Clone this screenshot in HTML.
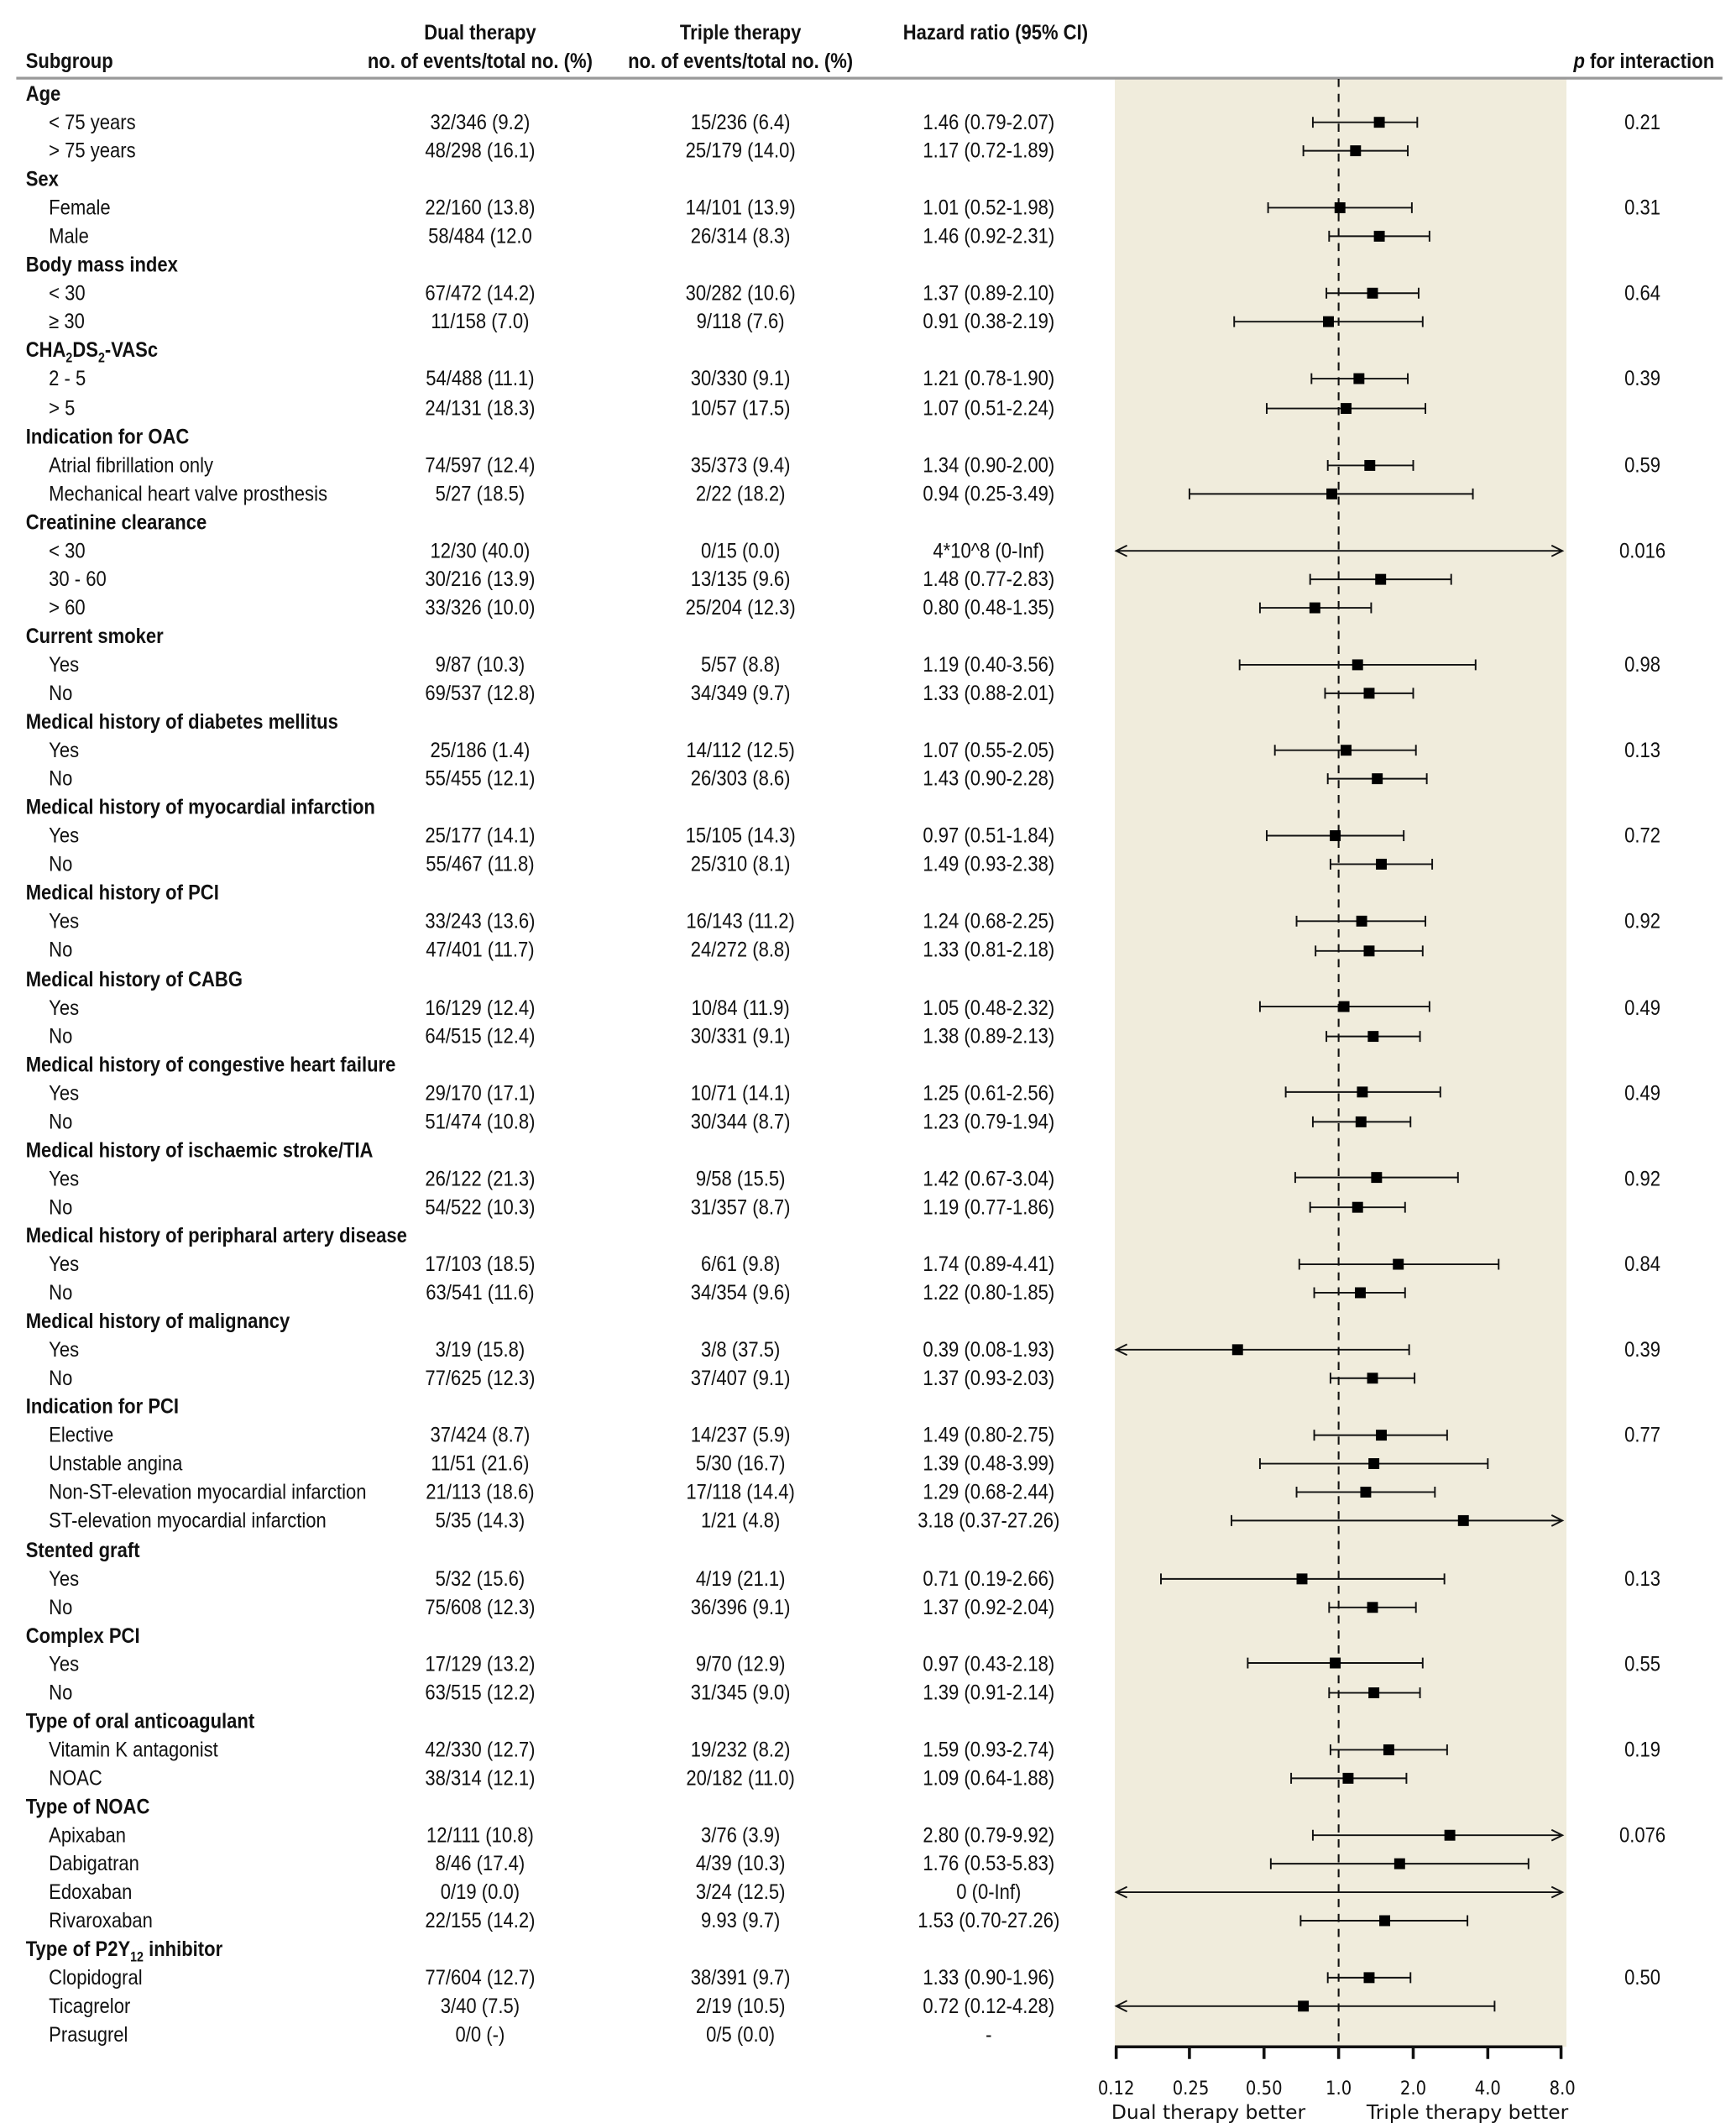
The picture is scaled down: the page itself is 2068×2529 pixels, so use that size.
<!DOCTYPE html>
<html><head><meta charset="utf-8"><style>
html,body{margin:0;padding:0;background:#fff;}
svg{display:block;}
text{font-family:"Liberation Sans Narrow","Liberation Sans",sans-serif;font-size:15.5px;fill:#111;}
.b{font-weight:bold;}
</style></head><body>
<svg width="2068" height="2529" viewBox="0 0 1280 1565" xmlns="http://www.w3.org/2000/svg">
<rect x="822" y="58" width="333" height="1451" fill="#f0ecdc"/>
<line x1="12" y1="57.5" x2="1270" y2="57.5" stroke="#999" stroke-width="2"/>
<g transform="translate(354 0) scale(0.88 1)" text-anchor="middle">
<text x="0" y="29" class="b">Dual therapy</text>
<text x="0" y="50" class="b">no. of events/total no. (%)</text>
</g>
<g transform="translate(546 0) scale(0.88 1)" text-anchor="middle">
<text x="0" y="29" class="b">Triple therapy</text>
<text x="0" y="50" class="b">no. of events/total no. (%)</text>
</g>
<g transform="translate(734 0) scale(0.88 1)" text-anchor="middle">
<text x="0" y="29" class="b">Hazard ratio (95% CI)</text>
</g>
<g transform="translate(1264 0) scale(0.88 1)" text-anchor="end">
<text x="0" y="50" class="b"><tspan font-style="italic">p</tspan> for interaction</text>
</g>
<line x1="987" y1="58" x2="987" y2="1509" stroke="#111" stroke-width="1.3" stroke-dasharray="6,5"/>
<g transform="translate(19 0) scale(0.88 1)">
<text x="0" y="50" class="b">Subgroup</text>
<text x="0" y="74" class="b">Age</text>
<text x="0" y="137" class="b">Sex</text>
<text x="0" y="200" class="b">Body mass index</text>
<text x="0" y="263" class="b">CHA<tspan font-size="10" dy="4">2</tspan><tspan dy="-4">DS</tspan><tspan font-size="10" dy="4">2</tspan><tspan dy="-4">-VASc</tspan></text>
<text x="0" y="327" class="b">Indication for OAC</text>
<text x="0" y="390" class="b">Creatinine clearance</text>
<text x="0" y="474" class="b">Current smoker</text>
<text x="0" y="537" class="b">Medical history of diabetes mellitus</text>
<text x="0" y="600" class="b">Medical history of myocardial infarction</text>
<text x="0" y="663" class="b">Medical history of PCI</text>
<text x="0" y="727" class="b">Medical history of CABG</text>
<text x="0" y="790" class="b">Medical history of congestive heart failure</text>
<text x="0" y="853" class="b">Medical history of ischaemic stroke/TIA</text>
<text x="0" y="916" class="b">Medical history of peripharal artery disease</text>
<text x="0" y="979" class="b">Medical history of malignancy</text>
<text x="0" y="1042" class="b">Indication for PCI</text>
<text x="0" y="1148" class="b">Stented graft</text>
<text x="0" y="1211" class="b">Complex PCI</text>
<text x="0" y="1274" class="b">Type of oral anticoagulant</text>
<text x="0" y="1337" class="b">Type of NOAC</text>
<text x="0" y="1442" class="b">Type of P2Y<tspan font-size="10" dy="4">12</tspan><tspan dy="-4"> inhibitor</tspan></text>
</g>
<g transform="translate(36 0) scale(0.88 1)">
<text x="0" y="95">&lt; 75 years</text>
<text x="0" y="116">&gt; 75 years</text>
<text x="0" y="158">Female</text>
<text x="0" y="179">Male</text>
<text x="0" y="221">&lt; 30</text>
<text x="0" y="242">≥ 30</text>
<text x="0" y="284">2 - 5</text>
<text x="0" y="306">&gt; 5</text>
<text x="0" y="348">Atrial fibrillation only</text>
<text x="0" y="369">Mechanical heart valve prosthesis</text>
<text x="0" y="411">&lt; 30</text>
<text x="0" y="432">30 - 60</text>
<text x="0" y="453">&gt; 60</text>
<text x="0" y="495">Yes</text><text x="0" y="516">No</text>
<text x="0" y="558">Yes</text><text x="0" y="579">No</text>
<text x="0" y="621">Yes</text><text x="0" y="642">No</text>
<text x="0" y="684">Yes</text><text x="0" y="705">No</text>
<text x="0" y="748">Yes</text><text x="0" y="769">No</text>
<text x="0" y="811">Yes</text><text x="0" y="832">No</text>
<text x="0" y="874">Yes</text><text x="0" y="895">No</text>
<text x="0" y="937">Yes</text><text x="0" y="958">No</text>
<text x="0" y="1000">Yes</text><text x="0" y="1021">No</text>
<text x="0" y="1063">Elective</text>
<text x="0" y="1084">Unstable angina</text>
<text x="0" y="1105">Non-ST-elevation myocardial infarction</text>
<text x="0" y="1126">ST-elevation myocardial infarction</text>
<text x="0" y="1169">Yes</text><text x="0" y="1190">No</text>
<text x="0" y="1232">Yes</text><text x="0" y="1253">No</text>
<text x="0" y="1295">Vitamin K antagonist</text>
<text x="0" y="1316">NOAC</text>
<text x="0" y="1358">Apixaban</text>
<text x="0" y="1379">Dabigatran</text>
<text x="0" y="1400">Edoxaban</text>
<text x="0" y="1421">Rivaroxaban</text>
<text x="0" y="1463">Clopidogral</text>
<text x="0" y="1484">Ticagrelor</text>
<text x="0" y="1505">Prasugrel</text>
</g>
<g transform="translate(354 0) scale(0.88 1)" text-anchor="middle">
<text x="0" y="95">32/346 (9.2)</text><text x="0" y="116">48/298 (16.1)</text>
<text x="0" y="158">22/160 (13.8)</text><text x="0" y="179">58/484 (12.0</text>
<text x="0" y="221">67/472 (14.2)</text><text x="0" y="242">11/158 (7.0)</text>
<text x="0" y="284">54/488 (11.1)</text><text x="0" y="306">24/131 (18.3)</text>
<text x="0" y="348">74/597 (12.4)</text><text x="0" y="369">5/27 (18.5)</text>
<text x="0" y="411">12/30 (40.0)</text><text x="0" y="432">30/216 (13.9)</text><text x="0" y="453">33/326 (10.0)</text>
<text x="0" y="495">9/87 (10.3)</text><text x="0" y="516">69/537 (12.8)</text>
<text x="0" y="558">25/186 (1.4)</text><text x="0" y="579">55/455 (12.1)</text>
<text x="0" y="621">25/177 (14.1)</text><text x="0" y="642">55/467 (11.8)</text>
<text x="0" y="684">33/243 (13.6)</text><text x="0" y="705">47/401 (11.7)</text>
<text x="0" y="748">16/129 (12.4)</text><text x="0" y="769">64/515 (12.4)</text>
<text x="0" y="811">29/170 (17.1)</text><text x="0" y="832">51/474 (10.8)</text>
<text x="0" y="874">26/122 (21.3)</text><text x="0" y="895">54/522 (10.3)</text>
<text x="0" y="937">17/103 (18.5)</text><text x="0" y="958">63/541 (11.6)</text>
<text x="0" y="1000">3/19 (15.8)</text><text x="0" y="1021">77/625 (12.3)</text>
<text x="0" y="1063">37/424 (8.7)</text><text x="0" y="1084">11/51 (21.6)</text><text x="0" y="1105">21/113 (18.6)</text><text x="0" y="1126">5/35 (14.3)</text>
<text x="0" y="1169">5/32 (15.6)</text><text x="0" y="1190">75/608 (12.3)</text>
<text x="0" y="1232">17/129 (13.2)</text><text x="0" y="1253">63/515 (12.2)</text>
<text x="0" y="1295">42/330 (12.7)</text><text x="0" y="1316">38/314 (12.1)</text>
<text x="0" y="1358">12/111 (10.8)</text><text x="0" y="1379">8/46 (17.4)</text><text x="0" y="1400">0/19 (0.0)</text><text x="0" y="1421">22/155 (14.2)</text>
<text x="0" y="1463">77/604 (12.7)</text><text x="0" y="1484">3/40 (7.5)</text><text x="0" y="1505">0/0 (-)</text>
</g>
<g transform="translate(546 0) scale(0.88 1)" text-anchor="middle">
<text x="0" y="95">15/236 (6.4)</text><text x="0" y="116">25/179 (14.0)</text>
<text x="0" y="158">14/101 (13.9)</text><text x="0" y="179">26/314 (8.3)</text>
<text x="0" y="221">30/282 (10.6)</text><text x="0" y="242">9/118 (7.6)</text>
<text x="0" y="284">30/330 (9.1)</text><text x="0" y="306">10/57 (17.5)</text>
<text x="0" y="348">35/373 (9.4)</text><text x="0" y="369">2/22 (18.2)</text>
<text x="0" y="411">0/15 (0.0)</text><text x="0" y="432">13/135 (9.6)</text><text x="0" y="453">25/204 (12.3)</text>
<text x="0" y="495">5/57 (8.8)</text><text x="0" y="516">34/349 (9.7)</text>
<text x="0" y="558">14/112 (12.5)</text><text x="0" y="579">26/303 (8.6)</text>
<text x="0" y="621">15/105 (14.3)</text><text x="0" y="642">25/310 (8.1)</text>
<text x="0" y="684">16/143 (11.2)</text><text x="0" y="705">24/272 (8.8)</text>
<text x="0" y="748">10/84 (11.9)</text><text x="0" y="769">30/331 (9.1)</text>
<text x="0" y="811">10/71 (14.1)</text><text x="0" y="832">30/344 (8.7)</text>
<text x="0" y="874">9/58 (15.5)</text><text x="0" y="895">31/357 (8.7)</text>
<text x="0" y="937">6/61 (9.8)</text><text x="0" y="958">34/354 (9.6)</text>
<text x="0" y="1000">3/8 (37.5)</text><text x="0" y="1021">37/407 (9.1)</text>
<text x="0" y="1063">14/237 (5.9)</text><text x="0" y="1084">5/30 (16.7)</text><text x="0" y="1105">17/118 (14.4)</text><text x="0" y="1126">1/21 (4.8)</text>
<text x="0" y="1169">4/19 (21.1)</text><text x="0" y="1190">36/396 (9.1)</text>
<text x="0" y="1232">9/70 (12.9)</text><text x="0" y="1253">31/345 (9.0)</text>
<text x="0" y="1295">19/232 (8.2)</text><text x="0" y="1316">20/182 (11.0)</text>
<text x="0" y="1358">3/76 (3.9)</text><text x="0" y="1379">4/39 (10.3)</text><text x="0" y="1400">3/24 (12.5)</text><text x="0" y="1421">9.93 (9.7)</text>
<text x="0" y="1463">38/391 (9.7)</text><text x="0" y="1484">2/19 (10.5)</text><text x="0" y="1505">0/5 (0.0)</text>
</g>
<g transform="translate(729 0) scale(0.88 1)" text-anchor="middle">
<text x="0" y="95">1.46 (0.79-2.07)</text><text x="0" y="116">1.17 (0.72-1.89)</text>
<text x="0" y="158">1.01 (0.52-1.98)</text><text x="0" y="179">1.46 (0.92-2.31)</text>
<text x="0" y="221">1.37 (0.89-2.10)</text><text x="0" y="242">0.91 (0.38-2.19)</text>
<text x="0" y="284">1.21 (0.78-1.90)</text><text x="0" y="306">1.07 (0.51-2.24)</text>
<text x="0" y="348">1.34 (0.90-2.00)</text><text x="0" y="369">0.94 (0.25-3.49)</text>
<text x="0" y="411">4*10^8 (0-Inf)</text><text x="0" y="432">1.48 (0.77-2.83)</text><text x="0" y="453">0.80 (0.48-1.35)</text>
<text x="0" y="495">1.19 (0.40-3.56)</text><text x="0" y="516">1.33 (0.88-2.01)</text>
<text x="0" y="558">1.07 (0.55-2.05)</text><text x="0" y="579">1.43 (0.90-2.28)</text>
<text x="0" y="621">0.97 (0.51-1.84)</text><text x="0" y="642">1.49 (0.93-2.38)</text>
<text x="0" y="684">1.24 (0.68-2.25)</text><text x="0" y="705">1.33 (0.81-2.18)</text>
<text x="0" y="748">1.05 (0.48-2.32)</text><text x="0" y="769">1.38 (0.89-2.13)</text>
<text x="0" y="811">1.25 (0.61-2.56)</text><text x="0" y="832">1.23 (0.79-1.94)</text>
<text x="0" y="874">1.42 (0.67-3.04)</text><text x="0" y="895">1.19 (0.77-1.86)</text>
<text x="0" y="937">1.74 (0.89-4.41)</text><text x="0" y="958">1.22 (0.80-1.85)</text>
<text x="0" y="1000">0.39 (0.08-1.93)</text><text x="0" y="1021">1.37 (0.93-2.03)</text>
<text x="0" y="1063">1.49 (0.80-2.75)</text><text x="0" y="1084">1.39 (0.48-3.99)</text><text x="0" y="1105">1.29 (0.68-2.44)</text><text x="0" y="1126">3.18 (0.37-27.26)</text>
<text x="0" y="1169">0.71 (0.19-2.66)</text><text x="0" y="1190">1.37 (0.92-2.04)</text>
<text x="0" y="1232">0.97 (0.43-2.18)</text><text x="0" y="1253">1.39 (0.91-2.14)</text>
<text x="0" y="1295">1.59 (0.93-2.74)</text><text x="0" y="1316">1.09 (0.64-1.88)</text>
<text x="0" y="1358">2.80 (0.79-9.92)</text><text x="0" y="1379">1.76 (0.53-5.83)</text><text x="0" y="1400">0 (0-Inf)</text><text x="0" y="1421">1.53 (0.70-27.26)</text>
<text x="0" y="1463">1.33 (0.90-1.96)</text><text x="0" y="1484">0.72 (0.12-4.28)</text><text x="0" y="1505">-</text>
</g>
<g transform="translate(1211 0) scale(0.88 1)" text-anchor="middle">
<text x="0" y="95">0.21</text><text x="0" y="158">0.31</text><text x="0" y="221">0.64</text>
<text x="0" y="284">0.39</text><text x="0" y="348">0.59</text><text x="0" y="411">0.016</text>
<text x="0" y="495">0.98</text><text x="0" y="558">0.13</text><text x="0" y="621">0.72</text>
<text x="0" y="684">0.92</text><text x="0" y="748">0.49</text><text x="0" y="811">0.49</text>
<text x="0" y="874">0.92</text><text x="0" y="937">0.84</text><text x="0" y="1000">0.39</text>
<text x="0" y="1063">0.77</text><text x="0" y="1169">0.13</text><text x="0" y="1232">0.55</text>
<text x="0" y="1295">0.19</text><text x="0" y="1358">0.076</text><text x="0" y="1463">0.50</text>
</g>
<g stroke="#111" stroke-width="1.2" fill="none">
<path d="M968 90H1045M968 86V94M1045 86V94"/>
<path d="M961 111H1038M961 107V115M1038 107V115"/>
<path d="M935 153H1041M935 149V157M1041 149V157"/>
<path d="M980 174H1054M980 170V178M1054 170V178"/>
<path d="M978 216H1046M978 212V220M1046 212V220"/>
<path d="M910 237H1049M910 233V241M1049 233V241"/>
<path d="M967 279H1038M967 275V283M1038 275V283"/>
<path d="M934 301H1051M934 297V305M1051 297V305"/>
<path d="M979 343H1042M979 339V347M1042 339V347"/>
<path d="M877 364H1086M877 360V368M1086 360V368"/>
<path d="M823 406H1152M831 402L823 406L831 410M1144 402L1152 406L1144 410"/>
<path d="M966 427H1070M966 423V431M1070 423V431"/>
<path d="M929 448H1011M929 444V452M1011 444V452"/>
<path d="M914 490H1088M914 486V494M1088 486V494"/>
<path d="M977 511H1042M977 507V515M1042 507V515"/>
<path d="M940 553H1044M940 549V557M1044 549V557"/>
<path d="M979 574H1052M979 570V578M1052 570V578"/>
<path d="M934 616H1035M934 612V620M1035 612V620"/>
<path d="M981 637H1056M981 633V641M1056 633V641"/>
<path d="M956 679H1051M956 675V683M1051 675V683"/>
<path d="M970 701H1049M970 697V705M1049 697V705"/>
<path d="M929 742H1054M929 738V746M1054 738V746"/>
<path d="M978 764H1047M978 760V768M1047 760V768"/>
<path d="M948 805H1062M948 801V809M1062 801V809"/>
<path d="M968 827H1040M968 823V831M1040 823V831"/>
<path d="M955 868H1075M955 864V872M1075 864V872"/>
<path d="M966 890H1036M966 886V894M1036 886V894"/>
<path d="M958 932H1105M958 928V936M1105 928V936"/>
<path d="M969 953H1036M969 949V957M1036 949V957"/>
<path d="M823 995H1039M831 991L823 995L831 999M1039 991V999"/>
<path d="M981 1016H1043M981 1012V1020M1043 1012V1020"/>
<path d="M969 1058H1067M969 1054V1062M1067 1054V1062"/>
<path d="M929 1079H1097M929 1075V1083M1097 1075V1083"/>
<path d="M956 1100H1058M956 1096V1104M1058 1096V1104"/>
<path d="M908 1121H1152M908 1117V1125M1144 1117L1152 1121L1144 1125"/>
<path d="M856 1164H1065M856 1160V1168M1065 1160V1168"/>
<path d="M980 1185H1044M980 1181V1189M1044 1181V1189"/>
<path d="M920 1226H1049M920 1222V1230M1049 1222V1230"/>
<path d="M980 1248H1047M980 1244V1252M1047 1244V1252"/>
<path d="M981 1290H1067M981 1286V1294M1067 1286V1294"/>
<path d="M952 1311H1037M952 1307V1315M1037 1307V1315"/>
<path d="M968 1353H1152M968 1349V1357M1144 1349L1152 1353L1144 1357"/>
<path d="M937 1374H1127M937 1370V1378M1127 1370V1378"/>
<path d="M823 1395H1152M831 1391L823 1395L831 1399M1144 1391L1152 1395L1144 1399"/>
<path d="M959 1416H1082M959 1412V1420M1082 1412V1420"/>
<path d="M979 1458H1040M979 1454V1462M1040 1454V1462"/>
<path d="M823 1479H1102M831 1475L823 1479L831 1483M1102 1475V1483"/>
</g>
<g fill="#000">
<rect x="1013" y="86" width="8" height="8"/>
<rect x="995.5" y="107" width="8" height="8"/>
<rect x="984" y="149" width="8" height="8"/>
<rect x="1013" y="170" width="8" height="8"/>
<rect x="1008" y="212" width="8" height="8"/>
<rect x="975.5" y="233" width="8" height="8"/>
<rect x="998" y="275" width="8" height="8"/>
<rect x="988.5" y="297" width="8" height="8"/>
<rect x="1006" y="339" width="8" height="8"/>
<rect x="978" y="360" width="8" height="8"/>
<rect x="1014" y="423" width="8" height="8"/>
<rect x="965.5" y="444" width="8" height="8"/>
<rect x="997" y="486" width="8" height="8"/>
<rect x="1005.5" y="507" width="8" height="8"/>
<rect x="988.5" y="549" width="8" height="8"/>
<rect x="1011.5" y="570" width="8" height="8"/>
<rect x="980.5" y="612" width="8" height="8"/>
<rect x="1014.5" y="633" width="8" height="8"/>
<rect x="1000" y="675" width="8" height="8"/>
<rect x="1005.5" y="697" width="8" height="8"/>
<rect x="987" y="738" width="8" height="8"/>
<rect x="1008.5" y="760" width="8" height="8"/>
<rect x="1000.5" y="801" width="8" height="8"/>
<rect x="999.5" y="823" width="8" height="8"/>
<rect x="1011" y="864" width="8" height="8"/>
<rect x="997" y="886" width="8" height="8"/>
<rect x="1027" y="928" width="8" height="8"/>
<rect x="999" y="949" width="8" height="8"/>
<rect x="908.5" y="991" width="8" height="8"/>
<rect x="1008" y="1012" width="8" height="8"/>
<rect x="1014.5" y="1054" width="8" height="8"/>
<rect x="1009" y="1075" width="8" height="8"/>
<rect x="1003" y="1096" width="8" height="8"/>
<rect x="1075" y="1117" width="8" height="8"/>
<rect x="956" y="1160" width="8" height="8"/>
<rect x="1008" y="1181" width="8" height="8"/>
<rect x="980.5" y="1222" width="8" height="8"/>
<rect x="1009" y="1244" width="8" height="8"/>
<rect x="1020" y="1286" width="8" height="8"/>
<rect x="990" y="1307" width="8" height="8"/>
<rect x="1065" y="1349" width="8" height="8"/>
<rect x="1028" y="1370" width="8" height="8"/>
<rect x="1017" y="1412" width="8" height="8"/>
<rect x="1005.5" y="1454" width="8" height="8"/>
<rect x="957" y="1475" width="8" height="8"/>
</g>
<g stroke="#111" stroke-width="2.2" fill="none">
<path d="M822 1509H1152M823 1509V1518M877 1509V1518M932 1509V1518M987 1509V1518M1042 1509V1518M1097 1509V1518M1151 1509V1518"/>
</g>
<g text-anchor="middle">
<text x="823" y="1544" style="font-family:'DejaVu Sans Condensed','Liberation Sans',sans-serif;font-size:13.5px">0.12</text>
<text x="878" y="1544" style="font-family:'DejaVu Sans Condensed','Liberation Sans',sans-serif;font-size:13.5px">0.25</text>
<text x="932" y="1544" style="font-family:'DejaVu Sans Condensed','Liberation Sans',sans-serif;font-size:13.5px">0.50</text>
<text x="987" y="1544" style="font-family:'DejaVu Sans Condensed','Liberation Sans',sans-serif;font-size:13.5px">1.0</text>
<text x="1042" y="1544" style="font-family:'DejaVu Sans Condensed','Liberation Sans',sans-serif;font-size:13.5px">2.0</text>
<text x="1097" y="1544" style="font-family:'DejaVu Sans Condensed','Liberation Sans',sans-serif;font-size:13.5px">4.0</text>
<text x="1152" y="1544" style="font-family:'DejaVu Sans Condensed','Liberation Sans',sans-serif;font-size:13.5px">8.0</text>
<text x="891" y="1562" style="font-family:'DejaVu Sans','Liberation Sans',sans-serif;font-size:14.5px">Dual therapy better</text>
<text x="1082" y="1562" style="font-family:'DejaVu Sans','Liberation Sans',sans-serif;font-size:14.5px">Triple therapy better</text>
</g>
</svg>
</body></html>
